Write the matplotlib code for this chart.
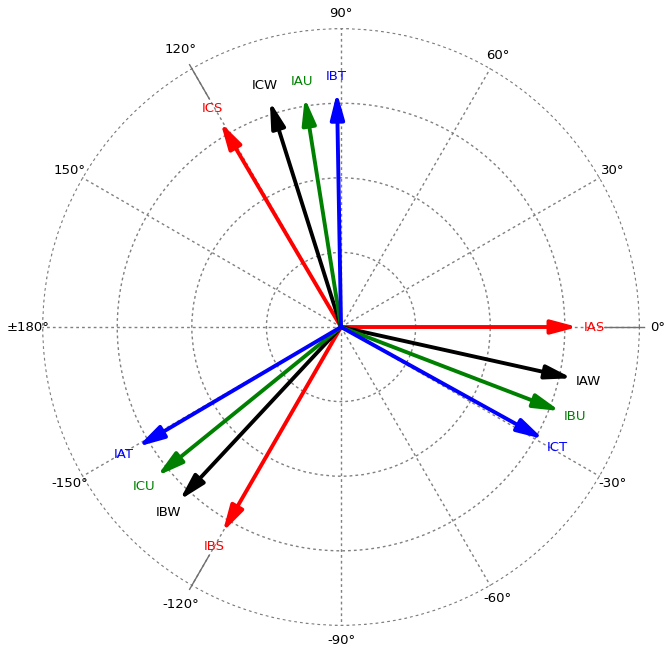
import numpy as np
import matplotlib
matplotlib.use("Agg")
import matplotlib.pyplot as plt

# ---- data ----
names = ["IAS", "IBS", "ICS", "IAW", "IBW", "ICW", "IAU", "IBU", "ICU", "IAT", "IBT", "ICT"]
angles_deg = [0, -120, 120.5, -12.5, -133, 107.5, 99, -21, -141, -149.5, 91, -29]
magnitudes = [79.3, 79.3, 79.5, 79.3, 79.3, 79.3, 77.8, 78.6, 79.3, 79.0, 78.6, 77.5]
colors = ["#ff0000", "#ff0000", "#ff0000",
          "#000000", "#000000", "#000000",
          "#008000", "#008000", "#008000",
          "#0000ff", "#0000ff", "#0000ff"]
tick_angles = [0, 30, 60, 90, 120, 150, 180, -150, -120, -90, -60, -30]
tick_labels = ["0°", "30°", "60°", "90°", "120°", "150°", "±180°",
               "-150°", "-120°", "-90°", "-60°", "-30°"]
ring_values = [25, 50, 75, 100]
leader_angles = [0, 120, -120]

fig = plt.figure(figsize=(6.67, 6.5), dpi=100)
ax = fig.add_axes([0.063, 0.0369, 0.8966, 0.92], projection="polar")
ax.set_ylim(0, 100.2)
ax.set_yticks(ring_values)
ax.set_yticklabels([])
ax.set_xticks(np.deg2rad([a % 360 for a in tick_angles]))
ax.set_xticklabels([])
ax.grid(True, color="#808080", linestyle=(0, (2.0, 2.2)), linewidth=1.0)
ax.spines["polar"].set_visible(False)
ax.tick_params(length=0)

# angle labels
for a, lab in zip(tick_angles, tick_labels):
    t = np.deg2rad(a)
    if a == 0:
        ax.text(t, 103.6, lab, ha="left", va="center", fontsize=9.5,
                color="#000000", clip_on=False)
    else:
        r = 107.5 if a in leader_angles else 105
        ax.text(t, r, lab, ha="center", va="center", fontsize=9.5,
                color="#000000", clip_on=False)

# leader lines
for a in leader_angles:
    t = np.deg2rad(a)
    ax.plot([t, t], [88.5, 101.5], color="#707070", lw=1.0, clip_on=False, zorder=2)

# vectors
for n, a, m, c in zip(names, angles_deg, magnitudes, colors):
    t = np.deg2rad(a)
    ax.annotate("", xy=(t, m), xytext=(0, 0),
                arrowprops=dict(arrowstyle="-|>,head_length=0.6,head_width=0.16",
                                mutation_scale=26, color=c, lw=2.8,
                                shrinkA=0, shrinkB=0), zorder=3)
    ax.text(t, m + 5.5, n, ha="center", va="center", fontsize=9.5, color=c, zorder=4)

fig.savefig("out.png", dpi=100)
